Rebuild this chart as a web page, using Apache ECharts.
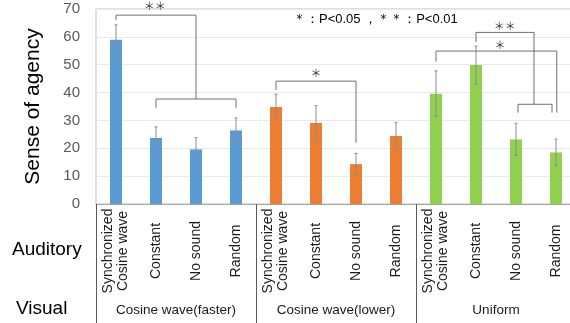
<!DOCTYPE html>
<html><head><meta charset="utf-8">
<script src="https://cdn.jsdelivr.net/npm/echarts@6/dist/echarts.min.js"></script>
<style>html,body{margin:0;padding:0;background:#fff}#c{width:570px;height:323px}</style>
</head><body><div id="c"></div>
<script>
// ---- data ----
var categories = ['Synchronized\nCosine wave','Constant','No sound','Random',
                  'Synchronized\nCosine wave','Constant','No sound','Random',
                  'Synchronized\nCosine wave','Constant','No sound','Random'];
var visualGroups = ['Cosine wave(faster)','Cosine wave(lower)','Uniform'];
var means  = [59, 23.7, 19.6, 26.4, 34.8, 29.1, 14.3, 24.4, 39.6, 49.9, 23.2, 18.5];
var errors = [5.3, 4.0, 4.2, 4.5, 4.6, 6.2, 3.9, 4.9, 8.2, 6.8, 5.8, 4.8];
var groupOf = [0,0,0,0,1,1,1,1,2,2,2,2];
var groupColors = ['#5B9BD5','#ED7D31','#92D050'];
var yTicks = {min:0, max:70, interval:10};
// significance brackets (category index, value) polylines
var brackets = [
  [[0,66.0],[0,67.8],[2,67.8],[2,37.7]],
  [[1,34.5],[1,37.7],[3,37.7],[3,34.5]],
  [[4,40.9],[4,44.1],[6,44.1],[6,22.0]],
  [[8,51.1],[8,54.9],[11.02,54.9],[11.02,32.8]],
  [[9,58.1],[9,61.6],[10.45,61.6],[10.45,35.8]],
  [[10.05,32.8],[10.05,35.8],[10.9,35.8],[10.9,32.8]]
];
var stars = [[0.97,71.2,'＊＊'],[5,47.2,'＊'],[9.6,57.2,'＊'],[9.72,63.8,'＊＊']];
var legendText = '＊：P<0.05 ，＊＊：P<0.01';

var FONT = 'Liberation Sans, Arial, sans-serif';
var chart = echarts.init(document.getElementById('c'));

function xAt(api, idx){
  var x0 = api.coord([0,0])[0];
  var w = api.size([1,0])[0];
  return x0 + idx*w;
}

chart.setOption({
  animation:false,
  textStyle:{fontFamily:FONT},
  grid:{left:96, top:9, width:480, height:195, outerBoundsMode:'none', containLabel:false,
        show:true, borderColor:'#bfbfbf', borderWidth:1},
  xAxis:[{
    type:'category', data:categories, position:'bottom',
    axisLine:{lineStyle:{color:'#a6a6a6'}},
    axisTick:{show:false},
    axisLabel:{interval:0, rotate:90, align:'center', verticalAlign:'middle', margin:47,
      color:'#1a1a1a', fontSize:14, lineHeight:15, fontFamily:FONT}
  },{
    type:'category', data:visualGroups, position:'bottom',
    axisLine:{show:false},
    axisTick:{show:true, length:119, lineStyle:{color:'#595959'}},
    axisLabel:{margin:99, color:'#1a1a1a', fontSize:13.5, fontFamily:FONT}
  }],
  yAxis:{
    type:'value', min:yTicks.min, max:yTicks.max, interval:yTicks.interval,
    name:'Sense of agency', nameLocation:'middle', nameGap:52,
    nameTextStyle:{fontSize:21, color:'#000', fontFamily:FONT},
    axisLine:{show:false}, axisTick:{show:false},
    axisLabel:{fontSize:15, color:'#595959', margin:16, fontFamily:FONT},
    splitLine:{lineStyle:{color:'#e9e9e9'}}
  },
  graphic:[
    {type:'text', left:12, top:240, style:{text:'Auditory', font:'19px '+FONT, fill:'#000'}},
    {type:'text', left:16, top:299, style:{text:'Visual', font:'19px '+FONT, fill:'#000'}},
    {type:'text', left:293, top:13, style:{text:legendText, font:'13px '+FONT, fill:'#000'}}
  ],
  series:[{
    type:'bar', xAxisIndex:0, barWidth:12,
    data: means.map(function(v,i){return {value:v, itemStyle:{color:groupColors[groupOf[i]]}};})
  },{
    type:'custom', xAxisIndex:0, z:5,
    data: means.map(function(v,i){return [i, v, errors[i]];}),
    renderItem:function(params, api){
      var i = api.value(0), v = api.value(1), e = api.value(2);
      var t = api.coord([i, v+e]), b = api.coord([i, v-e]);
      var st = {stroke:'#8c8c8c', lineWidth:1};
      return {type:'group', children:[
        {type:'line', shape:{x1:t[0],y1:t[1],x2:b[0],y2:b[1]}, style:st},
        {type:'line', shape:{x1:t[0]-1.5,y1:t[1],x2:t[0]+1.5,y2:t[1]}, style:st},
        {type:'line', shape:{x1:b[0]-1.5,y1:b[1],x2:b[0]+1.5,y2:b[1]}, style:st}
      ]};
    }
  },{
    type:'custom', xAxisIndex:0, z:6, clip:false,
    data: brackets.map(function(b,k){return [k];}),
    renderItem:function(params, api){
      var pts = brackets[params.dataIndex].map(function(p){
        return [xAt(api,p[0]), api.coord([0,p[1]])[1]];
      });
      return {type:'polyline', shape:{points:pts}, style:{stroke:'#6e6e6e', lineWidth:1, fill:null}};
    }
  },{
    type:'custom', xAxisIndex:0, z:7, clip:false,
    data: stars.map(function(s,k){return [k];}),
    renderItem:function(params, api){
      var s = stars[params.dataIndex];
      return {type:'text', x:xAt(api,s[0]), y:api.coord([0,s[1]])[1],
        style:{text:s[2], textAlign:'center', textVerticalAlign:'middle', font:'11px Noto Sans CJK JP', fill:'#333'}};
    }
  }]
});
</script></body></html>
